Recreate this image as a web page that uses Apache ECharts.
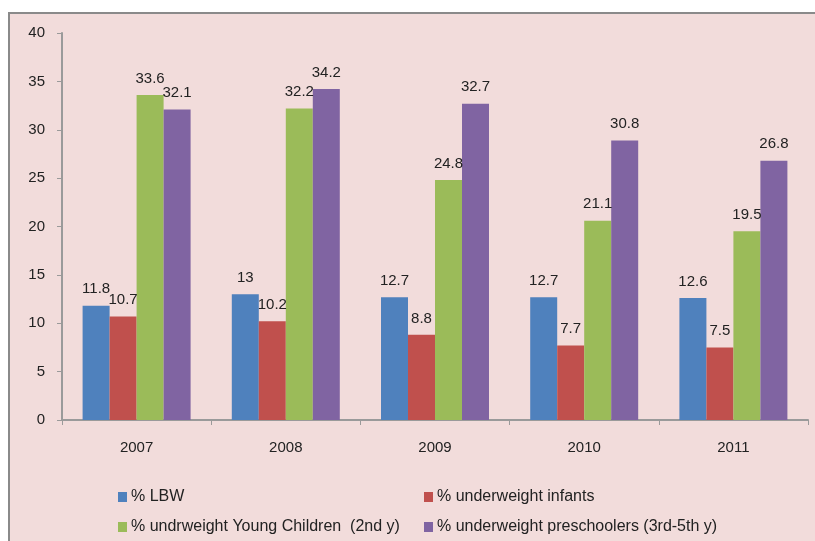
<!DOCTYPE html>
<html>
<head>
<meta charset="utf-8">
<script src="https://cdn.jsdelivr.net/npm/echarts@6/dist/echarts.min.js"></script>
<style>
  html, body { margin: 0; padding: 0; background: #fff; overflow: hidden; }
  #frame {
    position: absolute; left: 8px; top: 12px; width: 807px; height: 529px;
    background: #F2DCDB; border-left: 2px solid #8a8a8a; border-top: 2px solid #8a8a8a;
    box-sizing: border-box;
  }
  #main { position: absolute; left: 0; top: 0; width: 815px; height: 541px; }
</style>
</head>
<body>
<div id="frame"></div>
<div id="main"></div>
<script>
const years = ['2007', '2008', '2009', '2010', '2011'];
const lbw = [11.8, 13, 12.7, 12.7, 12.6];
const infants = [10.7, 10.2, 8.8, 7.7, 7.5];
const young = [33.6, 32.2, 24.8, 20.6, 19.5];
const preschool = [32.1, 34.2, 32.7, 28.9, 26.8];
// printed labels (a couple of bars in the source are drawn lower than their label)
const lbwLabels = ['11.8', '13', '12.7', '12.7', '12.6'];
const infantsLabels = ['10.7', '10.2', '8.8', '7.7', '7.5'];
const youngLabels = ['33.6', '32.2', '24.8', '21.1', '19.5'];
const preschoolLabels = ['32.1', '34.2', '32.7', '30.8', '26.8'];
const names = ['% LBW', '% underweight infants', '% undrweight Young Children  (2nd y)', '% underweight preschoolers (3rd-5th y)'];
const colors = ['#4F81BD', '#C0504D', '#9BBB59', '#8064A2'];

const chart = echarts.init(document.getElementById('main'));

function mkSeries(i, data, labels) {
  return {
    name: names[i],
    type: 'bar',
    data: data,
    barWidth: 27,
    barGap: 0,
    itemStyle: { color: colors[i] },
    label: {
      show: true,
      position: 'top',
      distance: 9,
      color: '#222',
      fontFamily: 'Liberation Sans',
      fontSize: 15,
      formatter: p => labels[p.dataIndex]
    }
  };
}

function mkLegend(name, left, top) {
  return {
    data: [name],
    left: left,
    top: top,
    itemWidth: 9,
    itemHeight: 10,
    itemGap: 5,
    icon: 'rect',
    selectedMode: false,
    textStyle: { color: '#222', fontFamily: 'Liberation Sans', fontSize: 16, padding: [0, 0, 0, -1] }
  };
}

chart.setOption({
  backgroundColor: 'transparent',
  animation: false,
  grid: { left: 62, right: 7, top: 33, bottom: 121 },
  legend: [
    mkLegend(names[0], 113, 484),
    mkLegend(names[1], 419, 484),
    mkLegend(names[2], 113, 514),
    mkLegend(names[3], 419, 514)
  ],
  xAxis: {
    type: 'category',
    data: years,
    axisLine: { lineStyle: { color: '#9a9a9a', width: 2 } },
    axisTick: { show: true, length: 5, lineStyle: { color: '#9a9a9a' } },
    axisLabel: { color: '#222', fontFamily: 'Liberation Sans', fontSize: 15, margin: 20 }
  },
  yAxis: {
    type: 'value',
    min: 0,
    max: 40,
    interval: 5,
    splitLine: { show: false },
    axisLine: { show: true, lineStyle: { color: '#9a9a9a', width: 2 } },
    axisTick: { show: true, length: 5, lineStyle: { color: '#9a9a9a' } },
    axisLabel: { color: '#222', fontFamily: 'Liberation Sans', fontSize: 15, margin: 17 }
  },
  series: [
    mkSeries(0, lbw, lbwLabels),
    mkSeries(1, infants, infantsLabels),
    mkSeries(2, young, youngLabels),
    mkSeries(3, preschool, preschoolLabels)
  ]
});
</script>
</body>
</html>
